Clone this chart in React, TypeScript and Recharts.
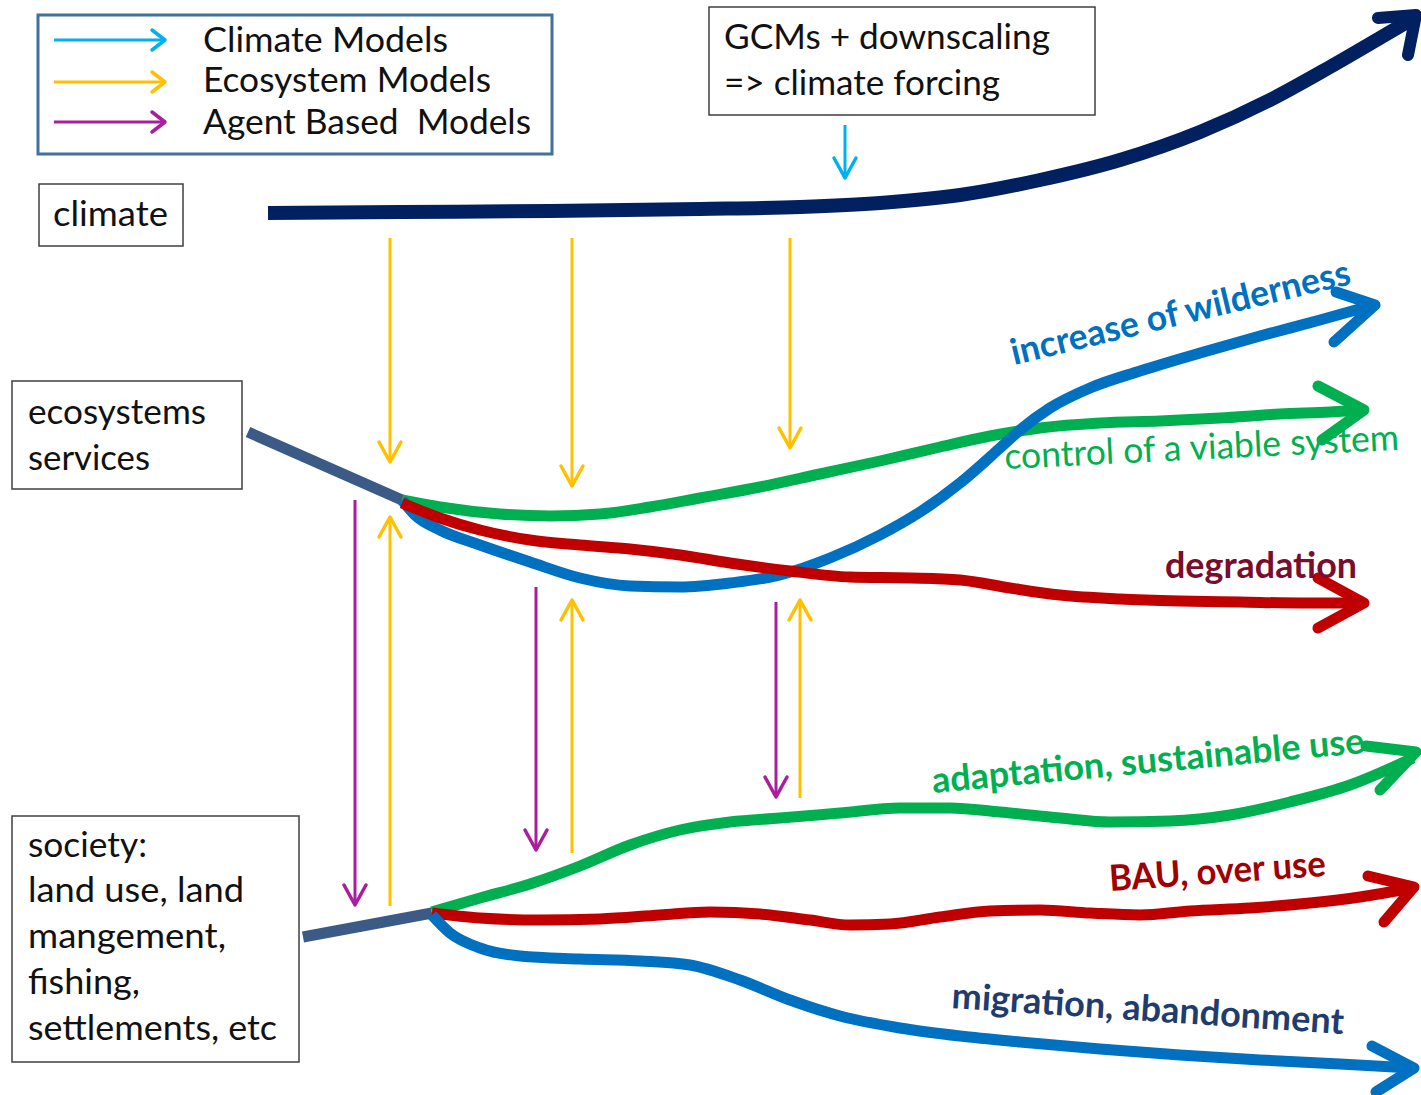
import React from 'react';
import { ComposedChart, XAxis, YAxis, Line, Scatter, ReferenceArea } from 'recharts';

const W = 1421;
const H = 1095;

// curves, in picture coordinates (y grows downward)
const climatePath = [
  { x: 268, y: 213 }, { x: 400, y: 212 }, { x: 550, y: 211 }, { x: 700, y: 209 }, { x: 800, y: 207 },
  { x: 880, y: 203 }, { x: 960, y: 195 }, { x: 1040, y: 180 }, { x: 1120, y: 160 }, { x: 1200, y: 132 },
  { x: 1270, y: 100 }, { x: 1330, y: 67 }, { x: 1385, y: 35 }, { x: 1414, y: 18 },
];
const climateHead = [{ x: 1378, y: 18 }, { x: 1416, y: 15 }, { x: 1408, y: 55 }];

const ecoStem = [{ x: 248, y: 432 }, { x: 402, y: 500 }];
const ecoViable = [
  { x: 402, y: 500 }, { x: 440, y: 507 }, { x: 500, y: 514 }, { x: 550, y: 516 }, { x: 600, y: 514 },
  { x: 650, y: 507 }, { x: 700, y: 498 }, { x: 760, y: 487 }, { x: 820, y: 474 }, { x: 880, y: 461 },
  { x: 940, y: 447 }, { x: 990, y: 436 }, { x: 1040, y: 428 }, { x: 1100, y: 423 }, { x: 1160, y: 421 },
  { x: 1220, y: 418 }, { x: 1280, y: 414 }, { x: 1330, y: 412 }, { x: 1362, y: 410 },
];
const viableHead = [{ x: 1318, y: 386 }, { x: 1364, y: 410 }, { x: 1322, y: 440 }];

const ecoWilderness = [
  { x: 402, y: 500 }, { x: 415, y: 515 }, { x: 440, y: 530 }, { x: 480, y: 545 }, { x: 530, y: 562 },
  { x: 580, y: 578 }, { x: 630, y: 586 }, { x: 680, y: 587 }, { x: 730, y: 583 }, { x: 780, y: 575 },
  { x: 830, y: 558 }, { x: 880, y: 535 }, { x: 920, y: 512 }, { x: 960, y: 483 }, { x: 1000, y: 448 },
  { x: 1020, y: 430 }, { x: 1050, y: 408 }, { x: 1090, y: 388 }, { x: 1140, y: 371 }, { x: 1200, y: 353 },
  { x: 1260, y: 336 }, { x: 1320, y: 320 }, { x: 1370, y: 306 },
];
const wildHead = [{ x: 1336, y: 292 }, { x: 1375, y: 305 }, { x: 1334, y: 342 }];

const ecoDegradation = [
  { x: 402, y: 503 }, { x: 440, y: 518 }, { x: 480, y: 530 }, { x: 530, y: 540 }, { x: 580, y: 545 },
  { x: 630, y: 549 }, { x: 680, y: 555 }, { x: 730, y: 563 }, { x: 790, y: 571 }, { x: 850, y: 577 },
  { x: 910, y: 578 }, { x: 960, y: 580 }, { x: 1010, y: 588 }, { x: 1060, y: 595 }, { x: 1120, y: 599 },
  { x: 1180, y: 601 }, { x: 1240, y: 602 }, { x: 1300, y: 603 }, { x: 1362, y: 603 },
];
const degHead = [{ x: 1318, y: 578 }, { x: 1364, y: 603 }, { x: 1318, y: 628 }];

const socStem = [{ x: 303, y: 937 }, { x: 432, y: 913 }];
const socAdapt = [
  { x: 432, y: 912 }, { x: 480, y: 898 }, { x: 530, y: 884 }, { x: 580, y: 866 }, { x: 630, y: 845 },
  { x: 680, y: 830 }, { x: 730, y: 822 }, { x: 780, y: 818 }, { x: 840, y: 813 }, { x: 900, y: 808 },
  { x: 950, y: 808 }, { x: 1000, y: 812 }, { x: 1060, y: 818 }, { x: 1110, y: 822 }, { x: 1170, y: 821 },
  { x: 1230, y: 815 }, { x: 1290, y: 802 }, { x: 1350, y: 785 }, { x: 1413, y: 758 },
];
const adaptHead = [{ x: 1366, y: 746 }, { x: 1416, y: 752 }, { x: 1380, y: 790 }];

const socBau = [
  { x: 432, y: 913 }, { x: 480, y: 918 }, { x: 540, y: 920 }, { x: 600, y: 919 }, { x: 660, y: 915 },
  { x: 710, y: 912 }, { x: 760, y: 914 }, { x: 810, y: 920 }, { x: 850, y: 925 }, { x: 890, y: 924 },
  { x: 940, y: 917 }, { x: 990, y: 911 }, { x: 1040, y: 910 }, { x: 1090, y: 913 }, { x: 1140, y: 915 },
  { x: 1190, y: 911 }, { x: 1250, y: 908 }, { x: 1310, y: 903 }, { x: 1360, y: 897 }, { x: 1412, y: 888 },
];
const bauHead = [{ x: 1368, y: 876 }, { x: 1414, y: 887 }, { x: 1384, y: 922 }];

const socMigration = [
  { x: 432, y: 915 }, { x: 450, y: 933 }, { x: 480, y: 948 }, { x: 520, y: 956 }, { x: 580, y: 959 },
  { x: 640, y: 961 }, { x: 690, y: 965 }, { x: 740, y: 980 }, { x: 790, y: 1000 }, { x: 840, y: 1016 },
  { x: 900, y: 1028 }, { x: 960, y: 1036 }, { x: 1020, y: 1042 }, { x: 1100, y: 1049 }, { x: 1180, y: 1055 },
  { x: 1260, y: 1060 }, { x: 1340, y: 1064 }, { x: 1412, y: 1068 },
];
const migHead = [{ x: 1372, y: 1046 }, { x: 1414, y: 1068 }, { x: 1376, y: 1092 }];

// thin vertical model arrows
const ecoArrowsDown = [{ x: 390, from: 238, to: 462 }, { x: 572, from: 238, to: 486 }, { x: 790, from: 238, to: 448 }];
const ecoArrowsUp = [{ x: 390, from: 906, to: 517 }, { x: 572, from: 853, to: 600 }, { x: 800, from: 798, to: 600 }];
const agentArrows = [{ x: 355, from: 500, to: 905 }, { x: 536, from: 587, to: 850 }, { x: 776, from: 602, to: 797 }];
const climateArrows = [{ x: 845, from: 125, to: 178 }];

// legend
const legendRows = [
  { y: 40, from: 54, to: 165, color: '#00B0F0' },
  { y: 82, from: 54, to: 165, color: '#FFC000' },
  { y: 122, from: 54, to: 165, color: '#AA1E9E' },
];

const boxes = [
  { x1: 38, x2: 552, y1: 15, y2: 154, stroke: '#41719C', width: 3 },
  { x1: 39, x2: 183, y1: 184, y2: 246, stroke: '#3F3F3F', width: 1.5 },
  { x1: 709, x2: 1095, y1: 7, y2: 115, stroke: '#3F3F3F', width: 1.5 },
  { x1: 12, x2: 242, y1: 381, y2: 489, stroke: '#3F3F3F', width: 1.5 },
  { x1: 12, x2: 299, y1: 816, y2: 1062, stroke: '#3F3F3F', width: 1.5 },
];

const boxTexts = [
  { x: 203, y: 52, text: 'Climate Models', len: 245 },
  { x: 203, y: 92, text: 'Ecosystem Models', len: 288 },
  { x: 203, y: 134, text: 'Agent Based  Models', len: 328 },
  { x: 53, y: 226, text: 'climate', len: 115 },
  { x: 724, y: 49, text: 'GCMs + downscaling', len: 326 },
  { x: 724, y: 95, text: '=> climate forcing', len: 276 },
  { x: 28, y: 424, text: 'ecosystems', len: 178 },
  { x: 28, y: 470, text: 'services', len: 122 },
  { x: 28, y: 857, text: 'society:', len: 119 },
  { x: 28, y: 902, text: 'land use, land', len: 216 },
  { x: 28, y: 948, text: 'mangement,', len: 198 },
  { x: 28, y: 994, text: 'fishing,', len: 112 },
  { x: 28, y: 1040, text: 'settlements, etc', len: 249 },
];

const scenarioTexts = [
  { x: 1014, y: 365, text: 'increase of wilderness', len: 348, angle: -13.5, color: '#0070C0', weight: 700 },
  { x: 1005, y: 469, text: 'control of a viable system', len: 395, angle: -2.8, color: '#00B050', weight: 400 },
  { x: 1165, y: 578, text: 'degradation', len: 192, angle: 0, color: '#7A0C2E', weight: 700 },
  { x: 933, y: 793, text: 'adaptation, sustainable use', len: 434, angle: -5.3, color: '#00B050', weight: 700 },
  { x: 1110, y: 891, text: 'BAU, over use', len: 217, angle: -4, color: '#A00000', weight: 700 },
  { x: 951, y: 1008, text: 'migration, abandonment', len: 393, angle: 3.8, color: '#1F3C6E', weight: 700 },
];

const FONT = 'Lato, "Open Sans", sans-serif';

const vHead = (x: number, from: number, to: number) => {
  const d = to > from ? -1 : 1;
  return [{ x: x - 11, y: to + d * 20 }, { x, y: to }, { x: x + 11, y: to + d * 20 }];
};

const thick = (key: string, data: { x: number; y: number }[], color: string, w: number, curve = true, cap = 'round') => (
  <Line key={key} data={data} dataKey="y" type={curve ? 'monotone' : 'linear'} stroke={color} strokeWidth={w}
    strokeLinecap={cap as any} strokeLinejoin="round" dot={false} activeDot={false} isAnimationActive={false} />
);

const thinArrows = (name: string, list: { x: number; from: number; to: number }[], color: string) =>
  list.flatMap((a, i) => [
    thick(`${name}-s${i}`, [{ x: a.x, y: a.from }, { x: a.x, y: a.to }], color, 3, false, 'butt'),
    thick(`${name}-h${i}`, vHead(a.x, a.from, a.to), color, 3.5, false),
  ]);

const BoxText = (props: any) => {
  const { cx, cy, payload } = props;
  return (
    <text x={cx} y={cy} fontFamily={FONT} fontSize={34} fill="#111" textLength={payload.len}
      lengthAdjust="spacingAndGlyphs" style={{ whiteSpace: 'pre' }}>
      {payload.text}
    </text>
  );
};

const ScenarioText = (props: any) => {
  const { cx, cy, payload } = props;
  return (
    <text x={cx} y={cy} fontFamily={FONT} fontSize={36} fontWeight={payload.weight} fill={payload.color}
      textLength={payload.len} lengthAdjust="spacingAndGlyphs" transform={`rotate(${payload.angle} ${cx} ${cy})`}>
      {payload.text}
    </text>
  );
};

export default function App() {
  return (
    <div style={{ width: W, height: H, background: '#fff' }}>
      <style>{'body{margin:0}'}</style>
      <ComposedChart width={W} height={H} margin={{ top: 0, right: 0, bottom: 0, left: 0 }}>
        <XAxis hide type="number" dataKey="x" domain={[0, W]} allowDataOverflow />
        <YAxis hide type="number" dataKey="y" domain={[0, H]} reversed allowDataOverflow />
        {boxes.map((b, i) => (
          <ReferenceArea key={`box${i}`} x1={b.x1} x2={b.x2} y1={b.y1} y2={b.y2} fill="#fff" fillOpacity={1}
            stroke={b.stroke} strokeWidth={b.width} ifOverflow="visible" />
        ))}
        {legendRows.flatMap((r, i) => [
          thick(`lg-s${i}`, [{ x: r.from, y: r.y }, { x: r.to, y: r.y }], r.color, 3, false, 'butt'),
          thick(`lg-h${i}`, [{ x: r.to - 13, y: r.y - 10 }, { x: r.to, y: r.y }, { x: r.to - 13, y: r.y + 10 }], r.color, 3.5, false),
        ])}
        {thinArrows('cl', climateArrows, '#00B0F0')}
        {thinArrows('ed', ecoArrowsDown, '#FFC000')}
        {thinArrows('eu', ecoArrowsUp, '#FFC000')}
        {thinArrows('ag', agentArrows, '#AA1E9E')}
        {thick('climate', climatePath, '#002060', 14, true, 'butt')}
        {thick('climateHead', climateHead, '#002060', 12, false)}
        {thick('ecoStem', ecoStem, '#3B5A85', 11, false, 'butt')}
        {thick('ecoViable', ecoViable, '#00B050', 11, true, 'butt')}
        {thick('viableHead', viableHead, '#00B050', 11, false)}
        {thick('ecoWild', ecoWilderness, '#0070C0', 11, true, 'butt')}
        {thick('wildHead', wildHead, '#0070C0', 11, false)}
        {thick('ecoDeg', ecoDegradation, '#C00000', 11, true, 'butt')}
        {thick('degHead', degHead, '#C00000', 11, false)}
        {thick('socStem', socStem, '#3B5A85', 11, false, 'butt')}
        {thick('socAdapt', socAdapt, '#00B050', 11, true, 'butt')}
        {thick('adaptHead', adaptHead, '#00B050', 11, false)}
        {thick('socBau', socBau, '#C00000', 11, true, 'butt')}
        {thick('bauHead', bauHead, '#C00000', 11, false)}
        {thick('socMig', socMigration, '#0070C0', 11, true, 'butt')}
        {thick('migHead', migHead, '#0070C0', 11, false)}
        <Scatter data={boxTexts} dataKey="y" shape={BoxText} isAnimationActive={false} />
        <Scatter data={scenarioTexts} dataKey="y" shape={ScenarioText} isAnimationActive={false} />
      </ComposedChart>
    </div>
  );
}
